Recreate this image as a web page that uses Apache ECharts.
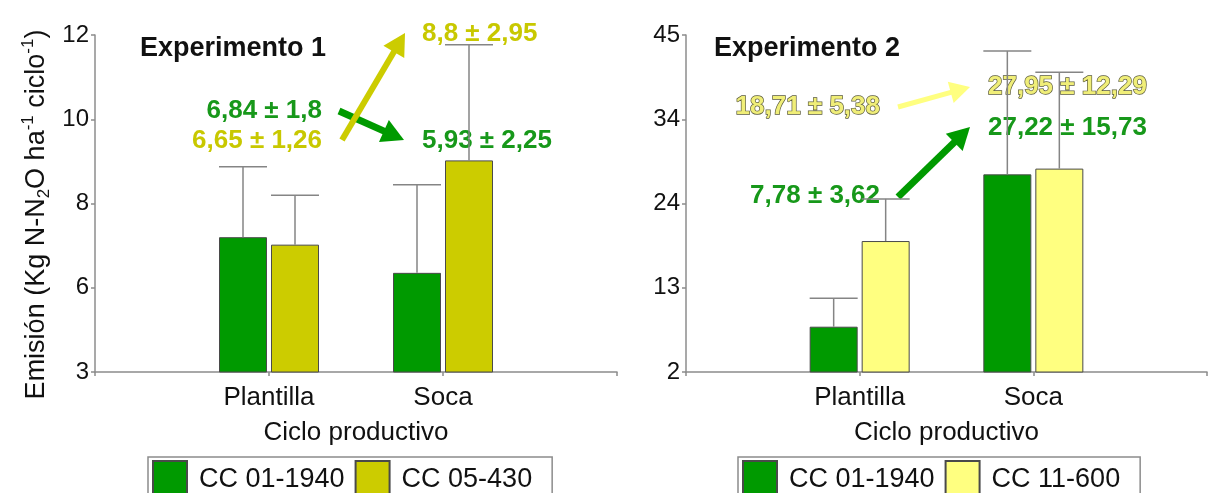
<!DOCTYPE html>
<html>
<head>
<meta charset="utf-8">
<script src="https://cdn.jsdelivr.net/npm/echarts@6/dist/echarts.min.js"></script>
<style>
  html, body { margin: 0; padding: 0; background: #ffffff; }
  #chart { width: 1211px; height: 493px; }
</style>
</head>
<body>
<div id="chart"></div>
<script>
// Production cycles
const categories = ['Plantilla', 'Soca'];

// Experimento 1: N2O emission, mean and standard deviation per cycle
const exp1Names = ['CC 01-1940', 'CC 05-430'];
const exp1MeanA = [6.84, 5.93];
const exp1SdA = [1.8, 2.25];
const exp1MeanB = [6.65, 8.8];
const exp1SdB = [1.26, 2.95];
const exp1Range = [3.4, 12];
const exp1TickLabels = ['3', '6', '8', '10', '12'];

// Experimento 2
const exp2Names = ['CC 01-1940', 'CC 11-600'];
const exp2MeanA = [7.78, 27.22];
const exp2SdA = [3.62, 15.73];
const exp2MeanB = [18.71, 27.95];
const exp2SdB = [5.38, 12.29];
const exp2Range = [2, 45];
const exp2TickLabels = ['2', '13', '24', '34', '45'];

const FONT = 'Liberation Sans, Arial, sans-serif';
const GREEN = '#009a00';
const OLIVE = '#cccc00';
const PALE = '#ffff80';
const AXIS = '#8c8c8c';
const INK = '#111111';
const BAR_W = 48;
const BAR_GAP = 4;

const fmt = v => String(v).replace('.', ',');
const pm = (m, s) => fmt(m) + ' \u00b1 ' + fmt(s);

const chart = echarts.init(document.getElementById('chart'), null, { renderer: 'canvas' });

function barSeries(name, means, color, idx) {
  return {
    type: 'bar', name, xAxisIndex: idx, yAxisIndex: idx,
    barWidth: BAR_W, barGap: (BAR_GAP / BAR_W * 100) + '%',
    itemStyle: { color, borderColor: '#4a4a4a', borderWidth: 1 },
    data: means.map((m, i) => [i + 1, m]),
    z: 2
  };
}

function errorSeries(means, sds, idx, side) {
  return {
    type: 'custom', name: 'sd-' + idx + '-' + side, xAxisIndex: idx, yAxisIndex: idx,
    z: 4, silent: true,
    data: means.map((m, i) => [i + 1, m, sds[i]]),
    renderItem(params, api) {
      const x = api.value(0), m = api.value(1), s = api.value(2);
      const base = api.coord([x, m]);
      const top = api.coord([x, m + s]);
      const cx = base[0] + side * (BAR_W + BAR_GAP) / 2;
      const st = { stroke: '#858585', lineWidth: 1.5 };
      return {
        type: 'group', children: [
          { type: 'line', shape: { x1: cx, y1: base[1], x2: cx, y2: top[1] }, style: st },
          { type: 'line', shape: { x1: cx - BAR_W / 2, y1: top[1], x2: cx + BAR_W / 2, y2: top[1] }, style: st }
        ]
      };
    }
  };
}

function xAxis(idx) {
  return {
    type: 'category', gridIndex: idx, data: [''].concat(categories, ['']), boundaryGap: false,
    axisLine: { lineStyle: { color: AXIS, width: 1.5 } },
    axisTick: { show: true, length: 4, interval: 0, lineStyle: { color: AXIS, width: 1.5 } },
    axisLabel: { interval: 0, fontSize: 26, color: INK, fontFamily: FONT, margin: 13 },
    splitLine: { show: false },
    name: 'Ciclo productivo', nameLocation: 'middle', nameGap: 48,
    nameTextStyle: { fontSize: 26, color: INK, fontFamily: FONT }
  };
}

function yAxis(idx, range, labels) {
  return {
    type: 'value', gridIndex: idx, min: range[0], max: range[1],
    interval: (range[1] - range[0]) / (labels.length - 1),
    axisLine: { show: true, lineStyle: { color: AXIS, width: 1.5 } },
    axisTick: { show: true, length: 4, lineStyle: { color: AXIS, width: 1.5 } },
    splitLine: { show: false },
    axisLabel: { formatter: (v, i) => labels[i], fontSize: 24, color: INK, fontFamily: FONT, margin: 6 }
  };
}

const yAxes = [yAxis(0, exp1Range, exp1TickLabels), yAxis(1, exp2Range, exp2TickLabels)];
Object.assign(yAxes[0], {
  name: '{a|Emisión (Kg N-N}{sub|2}{a|O ha}{sup|-1}{a| ciclo}{sup|-1}{a|)}',
  nameLocation: 'middle', nameRotate: 90, nameGap: 42,
  nameTextStyle: {
    color: INK, fontFamily: FONT, fontSize: 27, padding: [0, 22, 0, 0],
    rich: {
      a: { fontSize: 27, color: INK, fontFamily: FONT, lineHeight: 33 },
      sub: { fontSize: 17, color: INK, fontFamily: FONT, verticalAlign: 'bottom' },
      sup: { fontSize: 17, color: INK, fontFamily: FONT, verticalAlign: 'top' }
    }
  }
});

function legend(names, left) {
  return {
    data: names, left, top: 457, orient: 'horizontal', icon: 'rect',
    itemWidth: 34, itemHeight: 38, itemGap: 10, padding: [3, 20, 3, 4],
    borderColor: AXIS, borderWidth: 1.5, selectedMode: false,
    textStyle: { fontSize: 27, color: INK, fontFamily: FONT, padding: [0, 0, 0, 7] }
  };
}

function label(text, x, y, color, align, outline) {
  const style = {
    text, x, y, fill: color, font: 'bold 26px ' + FONT,
    align, textAlign: align, verticalAlign: 'middle', textVerticalAlign: 'middle'
  };
  if (outline) { style.stroke = '#5a5a3c'; style.lineWidth = 1.4; }
  return { type: 'text', z: 1, style };
}

function arrow(x1, y1, x2, y2, color, width, head) {
  const dx = x2 - x1, dy = y2 - y1, len = Math.hypot(dx, dy);
  const ux = dx / len, uy = dy / len, nx = -uy, ny = ux;
  const bx = x2 - ux * head, by = y2 - uy * head;
  const hw = head * 0.55;
  return {
    type: 'group', z: 1, children: [
      { type: 'line', shape: { x1, y1, x2: bx + ux * 2, y2: by + uy * 2 }, style: { stroke: color, lineWidth: width } },
      { type: 'polygon', shape: { points: [[x2, y2], [bx + nx * hw, by + ny * hw], [bx - nx * hw, by - ny * hw]] }, style: { fill: color } }
    ]
  };
}

const titleStyle = { fontSize: 27, fontWeight: 'bold', color: INK, fontFamily: FONT };

chart.setOption({
  animation: false,
  backgroundColor: '#ffffff',
  title: [
    { text: 'Experimento 1', left: 140, top: 35, padding: 0, textStyle: titleStyle },
    { text: 'Experimento 2', left: 714, top: 35, padding: 0, textStyle: titleStyle }
  ],
  grid: [
    { left: 95, top: 35, width: 522, height: 337 },
    { left: 686, top: 35, width: 521, height: 337 }
  ],
  xAxis: [xAxis(0), xAxis(1)],
  yAxis: yAxes,
  legend: [legend(exp1Names, 148), legend(exp2Names, 738)],
  series: [
    barSeries(exp1Names[0], exp1MeanA, GREEN, 0),
    barSeries(exp1Names[1], exp1MeanB, OLIVE, 0),
    errorSeries(exp1MeanA, exp1SdA, 0, -1),
    errorSeries(exp1MeanB, exp1SdB, 0, 1),
    barSeries(exp2Names[0], exp2MeanA, GREEN, 1),
    barSeries(exp2Names[1], exp2MeanB, PALE, 1),
    errorSeries(exp2MeanA, exp2SdA, 1, -1),
    errorSeries(exp2MeanB, exp2SdB, 1, 1)
  ],
  graphic: [
    arrow(339, 111, 404, 140, GREEN, 7, 22),
    arrow(342, 140, 405, 33, OLIVE, 6, 22),
    label(pm(exp1MeanA[0], exp1SdA[0]), 322, 111, '#17981a', 'right'),
    label(pm(exp1MeanB[0], exp1SdB[0]), 322, 141, '#c8c800', 'right'),
    label(pm(exp1MeanB[1], exp1SdB[1]), 422, 34, '#c8c800', 'left'),
    label(pm(exp1MeanA[1], exp1SdA[1]), 422, 141, '#17981a', 'left'),
    arrow(898, 107, 970, 87, PALE, 5, 20),
    arrow(898, 197, 970, 127, GREEN, 7, 22),
    label(pm(exp2MeanB[0], exp2SdB[0]), 880, 107, '#f0ee78', 'right', true),
    label(pm(exp2MeanA[0], exp2SdA[0]), 880, 196, '#17981a', 'right'),
    label(pm(exp2MeanB[1], exp2SdB[1]), 988, 87, '#f0ee78', 'left', true),
    label(pm(exp2MeanA[1], exp2SdA[1]), 988, 128, '#17981a', 'left')
  ]
});
</script>
</body>
</html>
